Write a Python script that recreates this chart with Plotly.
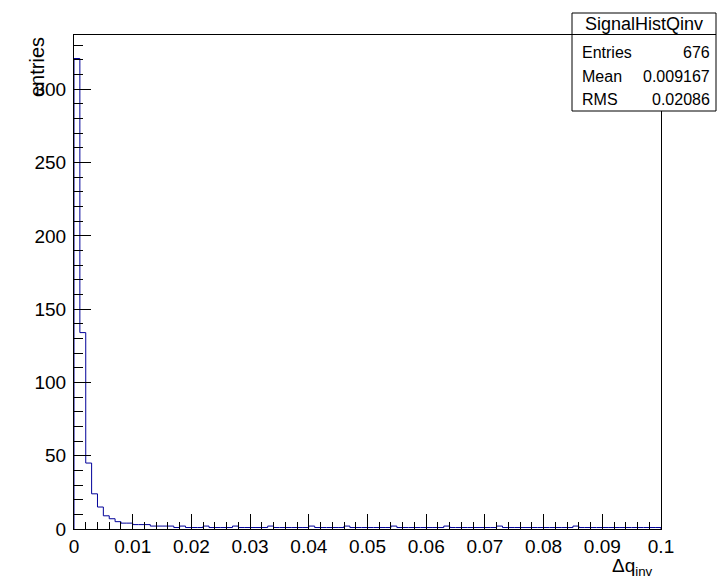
import numpy as np
import plotly.graph_objects as go

# ---- data ----
x_min, x_max, n_bins = 0.0, 0.1, 100
head_counts = [321, 134, 45, 24, 15, 9, 7, 5, 4, 4,
               3, 3, 3, 2, 2, 2, 2, 1, 2, 1]
tail_counts = [1, 1, 2, 1, 1, 1, 1, 2, 1, 1,
               1, 1, 1, 2, 1, 1, 1, 1, 1, 1,
               2, 1, 1, 1, 1, 1, 2, 1, 1, 1,
               1, 1, 1, 1, 2, 1, 1, 1, 1, 1,
               1, 1, 1, 2, 1, 1, 1, 1, 1, 1,
               1, 1, 2, 1, 1, 1, 1, 1, 1, 1,
               1, 1, 1, 1, 1, 2, 1, 1, 1, 1,
               1, 1, 1, 1, 1, 1, 1, 1, 1, 1]
counts = head_counts + tail_counts
y_ticks = [0, 50, 100, 150, 200, 250, 300]
x_ticks = [0, 0.01, 0.02, 0.03, 0.04, 0.05, 0.06, 0.07, 0.08, 0.09, 0.1]
x_tick_labels = ["0", "0.01", "0.02", "0.03", "0.04", "0.05", "0.06", "0.07", "0.08", "0.09", "0.1"]
stats_title = "SignalHistQinv"
stats_rows = [("Entries", "676"), ("Mean", "0.009167"), ("RMS", "0.02086")]
x_title = "Δq<sub>inv</sub>"
y_title = "entries"

# ---- geometry (pixels) ----
W, H = 720, 587
L, R, T, B = 74, 661, 35, 529
pw, ph = R - L, B - T
def px(x):
    return (x - L) / pw
def py(y):
    return (B - y) / ph

edges = np.linspace(x_min, x_max, n_bins + 1)
xs = [edges[0]] + list(edges)
ys = [0] + list(counts) + [counts[-1]]
xs = xs + [edges[-1]]
ys = ys[:len(xs) - 1] + [0]

FONT = "Liberation Sans, Arial, Helvetica, sans-serif"
fig = go.Figure()
fig.add_trace(go.Scatter(x=xs, y=ys, mode="lines", line=dict(shape="hv", color="#000099", width=1),
                         hoverinfo="skip", showlegend=False))

ymax = max(counts) * 1.05
fig.update_layout(
    width=W, height=H,
    margin=dict(l=L, r=W - R, t=T, b=H - B),
    paper_bgcolor="white", plot_bgcolor="white",
    font=dict(family=FONT, size=19, color="black"),
    showlegend=False,
    xaxis=dict(range=[x_min, x_max], tickmode="array", tickvals=x_ticks, ticktext=x_tick_labels,
               ticks="inside", ticklen=15, tickcolor="black", tickwidth=1,
               minor=dict(dtick=0.002, ticks="inside", ticklen=7, tickcolor="black", tickwidth=1),
               showline=True, linecolor="black", linewidth=1, mirror=True,
               showgrid=False, zeroline=False, tickfont=dict(size=19)),
    yaxis=dict(range=[0, ymax], tickmode="array", tickvals=y_ticks,
               ticks="inside", ticklen=17, tickcolor="black", tickwidth=1,
               minor=dict(dtick=10, ticks="inside", ticklen=9, tickcolor="black", tickwidth=1),
               showline=True, linecolor="black", linewidth=1, mirror=True,
               showgrid=False, zeroline=False, tickfont=dict(size=19), ticklabelstandoff=3),
)

# axis titles
fig.add_annotation(text=y_title, xref="paper", yref="paper", x=px(37), y=1.0,
                   xanchor="center", yanchor="top", textangle=-90, showarrow=False,
                   font=dict(size=20))
fig.add_annotation(text=x_title, xref="paper", yref="paper", x=px(655), y=py(567),
                   xanchor="right", yanchor="middle", showarrow=False, font=dict(size=19))

# stats box
bx0, bx1, by0, by1 = 572, 716, 13, 111
fig.add_shape(type="rect", xref="paper", yref="paper", x0=px(bx0), x1=px(bx1), y0=py(by1), y1=py(by0),
              line=dict(color="black", width=1), fillcolor="white", layer="above")
fig.add_shape(type="line", xref="paper", yref="paper", x0=px(bx0), x1=px(bx1), y0=py(34.5), y1=py(34.5),
              line=dict(color="black", width=1), layer="above")
fig.add_annotation(text=stats_title, xref="paper", yref="paper", x=px((bx0 + bx1) / 2), y=py(24),
                   xanchor="center", yanchor="middle", showarrow=False, font=dict(size=18))
row_y = [52, 76.5, 99.5]
for (k, v), yy in zip(stats_rows, row_y):
    fig.add_annotation(text=k, xref="paper", yref="paper", x=px(580), y=py(yy),
                       xanchor="left", yanchor="middle", showarrow=False, font=dict(size=16))
    fig.add_annotation(text=v, xref="paper", yref="paper", x=px(712), y=py(yy),
                       xanchor="right", yanchor="middle", showarrow=False, font=dict(size=16))

fig.write_html("out.html")
